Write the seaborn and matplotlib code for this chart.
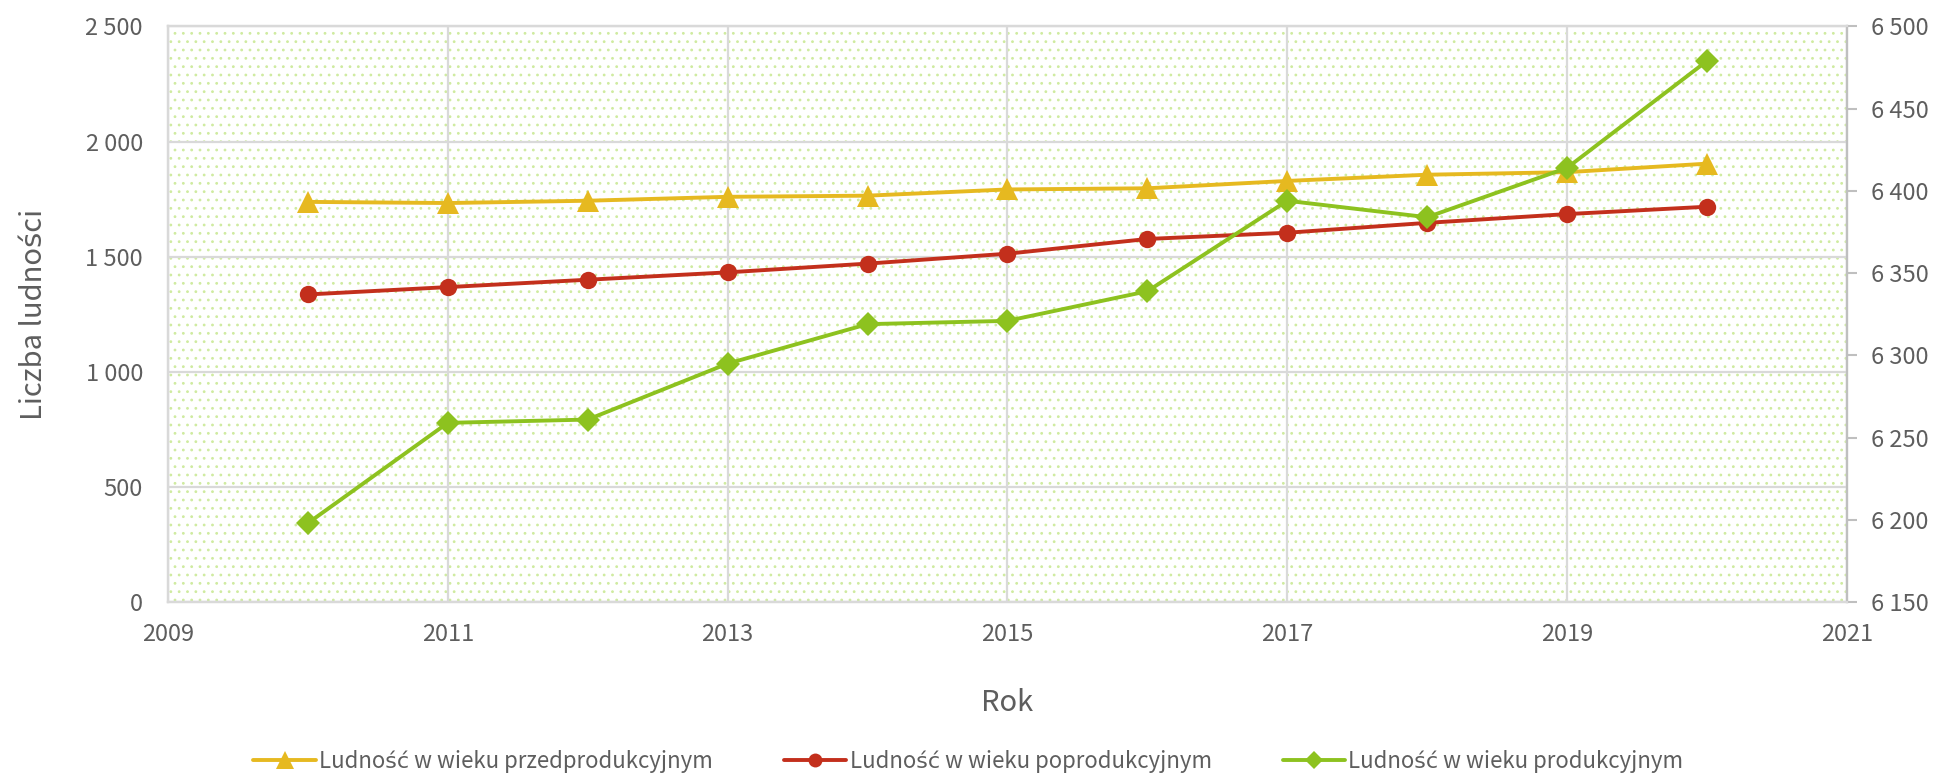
import numpy as np
import pandas as pd
import matplotlib
matplotlib.use("Agg")
import matplotlib.pyplot as plt
from matplotlib.patches import Rectangle
from matplotlib.ticker import FuncFormatter, MultipleLocator
import seaborn as sns

# data
years = [2010, 2011, 2012, 2013, 2014, 2015, 2016, 2017, 2018, 2019, 2020]
przedprodukcyjny = [1738, 1733, 1743, 1760, 1765, 1792, 1797, 1829, 1856, 1867, 1904]
poprodukcyjny = [1336, 1368, 1400, 1432, 1470, 1513, 1577, 1604, 1647, 1685, 1717]
produkcyjny = [6198, 6259, 6261, 6295, 6319, 6321, 6339, 6394, 6384, 6414, 6479]
year_ticks = [2009, 2011, 2013, 2015, 2017, 2019, 2021]

labels = ["Ludność w wieku przedprodukcyjnym",
          "Ludność w wieku poprodukcyjnym",
          "Ludność w wieku produkcyjnym"]

YELLOW = "#E6B920"
RED = "#C32F1C"
GREEN = "#8DC21F"
TEXT = "#5E5E5E"
GRID = "#D9D9D9"

sns.set_style("white")
plt.rcParams['font.family'] = ['Noto Sans CJK JP', 'DejaVu Sans']
plt.rcParams['hatch.linewidth'] = 0.8


def space_thousands(v, pos):
    return f"{int(round(v)):,}".replace(",", " ")


df = pd.DataFrame({"Rok": years, "pre": przedprodukcyjny,
                   "post": poprodukcyjny, "prod": produkcyjny})

fig, ax = plt.subplots(figsize=(19.37, 7.76), dpi=100)
fig.subplots_adjust(left=0.0867, right=0.9535, bottom=0.224, top=0.966)

# dotted green background
bg = Rectangle((0, 0), 1, 1, transform=ax.transAxes, facecolor="none",
               edgecolor="#CFEBA0", linewidth=0, hatch="..", zorder=0)
ax.add_patch(bg)
ax.set_axisbelow(True)

sns.lineplot(data=df, x="Rok", y="pre", ax=ax, color=YELLOW, marker="^",
             markersize=16, markeredgewidth=0, linewidth=2.8, label=labels[0],
             legend=False)
sns.lineplot(data=df, x="Rok", y="post", ax=ax, color=RED, marker="o",
             markersize=12.5, markeredgewidth=0, linewidth=2.8, label=labels[1],
             legend=False)

ax2 = ax.twinx()
sns.lineplot(data=df, x="Rok", y="prod", ax=ax2, color=GREEN, marker="D",
             markersize=12, markeredgewidth=0, linewidth=2.8, label=labels[2],
             legend=False)

ax.set_xlim(2009, 2021)
ax.set_ylim(0, 2500)
ax2.set_ylim(6150, 6500)
ax.set_xticks(year_ticks)
ax.yaxis.set_major_locator(MultipleLocator(500))
ax2.yaxis.set_major_locator(MultipleLocator(50))
ax.yaxis.set_major_formatter(FuncFormatter(space_thousands))
ax2.yaxis.set_major_formatter(FuncFormatter(space_thousands))

ax.grid(True, color=GRID, linewidth=1.6)
ax.tick_params(axis="both", length=0, labelsize=17, labelcolor=TEXT)
ax.tick_params(axis="y", pad=18)
ax.tick_params(axis="x", pad=15)
ax2.tick_params(axis="y", length=7, width=1.5, color="#BFBFBF", pad=10,
                labelsize=17, labelcolor=TEXT)

for a in (ax, ax2):
    for s in a.spines.values():
        s.set_color(GRID)
        s.set_linewidth(1.6)
ax2.spines["right"].set_color("#BFBFBF")

ax.set_xlabel("Rok", fontsize=21, color=TEXT, labelpad=30)
ax.set_ylabel("Liczba ludności", fontsize=21, color=TEXT, labelpad=26)
ax2.set_ylabel("")

h1, l1 = ax.get_legend_handles_labels()
h2, l2 = ax2.get_legend_handles_labels()
fig.legend(h1 + h2, l1 + l2, loc="lower center", bbox_to_anchor=(0.5, -0.022),
           ncol=3, frameon=False, fontsize=16, labelcolor=TEXT,
           handlelength=2.8, handletextpad=0.15, columnspacing=3.2,
           markerscale=0.8)

fig.savefig("out.png", dpi=100)
